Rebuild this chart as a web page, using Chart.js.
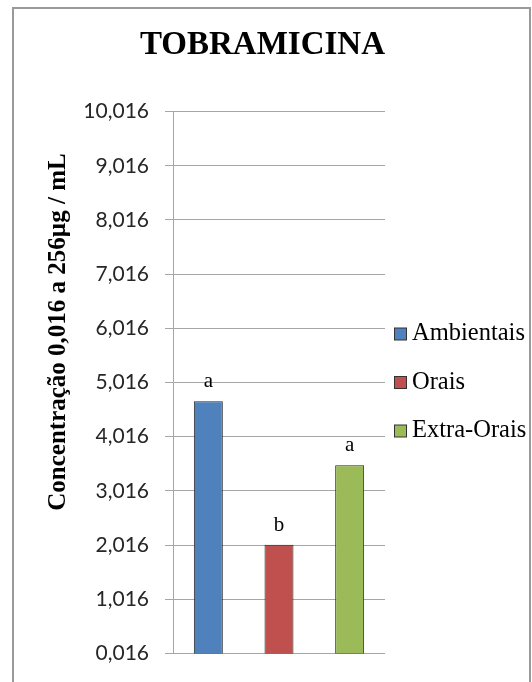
<!DOCTYPE html>
<html>
<head>
<meta charset="utf-8">
<script src="https://cdn.jsdelivr.net/npm/chart.js@4.4.1/dist/chart.umd.min.js"></script>
<style>
  html, body { margin: 0; padding: 0; background: #fff; overflow: hidden; }
  #frame { position: absolute; left: 12px; top: 7px; width: 519px; height: 720px; box-sizing: border-box; border: 2px solid #9a9a9a; }
  #chart { position: absolute; left: 0; top: 0; }
</style>
</head>
<body>
<div id="frame"></div>
<canvas id="chart" width="532" height="682"></canvas>
<script>
const categories = ['Ambientais', 'Orais', 'Extra-Orais'];
const values = [4.67, 2.02, 3.49];
const letters = ['a', 'b', 'a'];
const barColors = ['#4f81bd', '#c0504d', '#9bbb59'];
const yTicks = [0.016, 1.016, 2.016, 3.016, 4.016, 5.016, 6.016, 7.016, 8.016, 9.016, 10.016];
const yTickLabels = ['0,016', '1,016', '2,016', '3,016', '4,016', '5,016', '6,016', '7,016', '8,016', '9,016', '10,016'];
const yTitle = 'Concentração 0,016 a 256µg / mL';

const serif = '"Liberation Serif", "Times New Roman", serif';

// letters above bars
const letterPlugin = {
  id: 'letters',
  afterDatasetsDraw(chart) {
    const ctx = chart.ctx;
    const bars = chart.getDatasetMeta(0).data;
    ctx.save();
    ctx.font = '21px ' + serif;
    ctx.fillStyle = '#000';
    ctx.textAlign = 'center';
    ctx.textBaseline = 'alphabetic';
    bars.forEach((bar, i) => {
      ctx.fillText(letters[i], bar.x, bar.y - 14);
    });
    ctx.restore();
  }
};

// rotated y title + legend on the right
const sidePlugin = {
  id: 'side',
  afterDraw(chart) {
    const ctx = chart.ctx;
    const area = chart.chartArea;
    ctx.save();
    ctx.translate(59, 332);
    ctx.rotate(-Math.PI / 2);
    ctx.font = 'bold 25px ' + serif;
    ctx.fillStyle = '#000';
    ctx.textAlign = 'center';
    ctx.textBaseline = 'middle';
    ctx.fillText(yTitle, 0, 0);
    ctx.restore();

    const mid = (area.top + area.bottom) / 2;
    ctx.save();
    ctx.font = '24.5px ' + serif;
    ctx.textBaseline = 'middle';
    ctx.textAlign = 'left';
    categories.forEach((name, i) => {
      const cy = mid + (i - 1) * 48.5;
      ctx.fillStyle = barColors[i];
      ctx.fillRect(394.5, cy - 6, 12, 12);
      ctx.strokeStyle = '#333';
      ctx.lineWidth = 1;
      ctx.strokeRect(394.5, cy - 6, 12, 12);
      ctx.fillStyle = '#000';
      ctx.fillText(name, 412, cy);
    });
    ctx.restore();
  }
};

new Chart(document.getElementById('chart'), {
  type: 'bar',
  data: {
    labels: categories,
    datasets: [{
      data: values,
      backgroundColor: barColors,
      borderColor: '#262626',
      borderWidth: 1,
      borderSkipped: false,
      categoryPercentage: 1,
      barPercentage: 0.41
    }]
  },
  options: {
    responsive: false,
    animation: false,
    layout: { padding: { left: 0, right: 147, top: 0, bottom: 27 } },
    plugins: {
      legend: { display: false },
      tooltip: { enabled: false },
      title: {
        display: true,
        text: 'TOBRAMICINA',
        align: 'end',
        color: '#000',
        font: { family: serif, size: 33, weight: 'bold', lineHeight: 1.2 },
        padding: { top: 26, bottom: 46 }
      }
    },
    scales: {
      x: { display: false },
      y: {
        min: 0.016,
        max: 10.016,
        afterBuildTicks: scale => { scale.ticks = yTicks.map(v => ({ value: v })); },
        afterFit: scale => { scale.width = 173; },
        ticks: {
          padding: 16,
          color: '#262626',
          font: { family: 'Lato, "Open Sans", sans-serif', size: 21 },
          callback: (v, i) => yTickLabels[i]
        },
        grid: { color: '#a6a6a6', lineWidth: 1, tickLength: 8 },
        border: { color: '#a6a6a6', width: 1 }
      }
    }
  },
  plugins: [letterPlugin, sidePlugin]
});
</script>
</body>
</html>
